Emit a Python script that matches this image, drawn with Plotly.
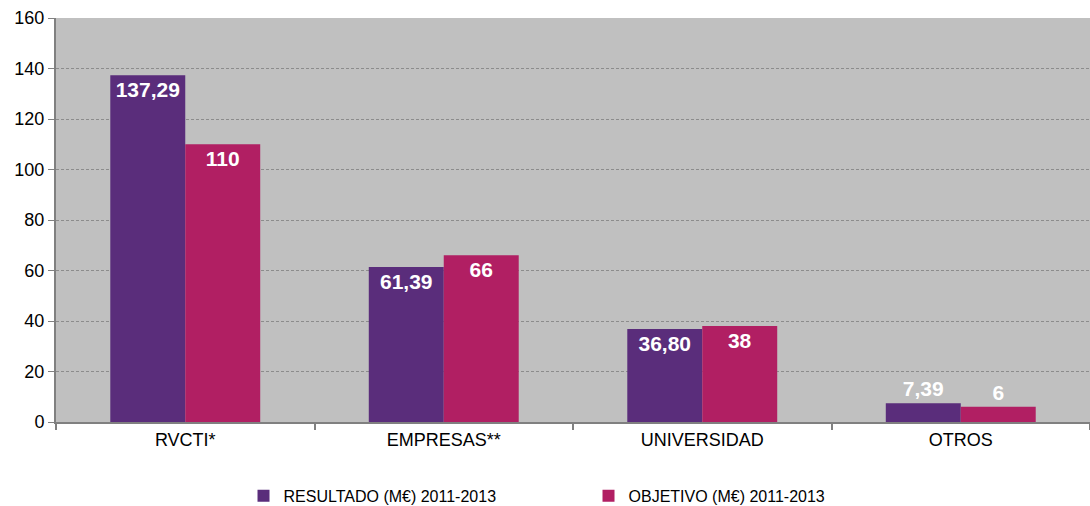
import plotly.graph_objects as go

categories = ["RVCTI*", "EMPRESAS**", "UNIVERSIDAD", "OTROS"]
resultado = [137.29, 61.39, 36.80, 7.39]
objetivo = [110, 66, 38, 6]
resultado_labels = ["137,29", "61,39", "36,80", "7,39"]
objetivo_labels = ["110", "66", "38", "6"]
y_ticks = [0, 20, 40, 60, 80, 100, 120, 140, 160]

purple = "#5A2D7B"
magenta = "#B11F63"
label_font = dict(color="white", size=21, family="Liberation Sans, Arial", weight="bold")

fig = go.Figure()
fig.add_trace(go.Bar(
    x=categories, y=resultado, name="RESULTADO (M€) 2011-2013",
    marker=dict(color=purple, line=dict(width=0)),
    text=resultado_labels,
    textposition=["inside", "inside", "inside", "outside"],
    insidetextanchor="end",
    textfont=label_font, outsidetextfont=label_font,
    cliponaxis=False,
))
fig.add_trace(go.Bar(
    x=categories, y=objetivo, name="OBJETIVO (M€) 2011-2013",
    marker=dict(color=magenta, line=dict(width=0)),
    text=objetivo_labels,
    textposition=["inside", "inside", "inside", "outside"],
    insidetextanchor="end",
    textfont=label_font, outsidetextfont=label_font,
    cliponaxis=False,
))

fig.update_layout(
    width=1090, height=506,
    margin=dict(l=56, r=0, t=18, b=84, autoexpand=False),
    paper_bgcolor="white",
    plot_bgcolor="#C0C0C0",
    barmode="group",
    bargap=0.42,
    bargroupgap=0,
    uniformtext=dict(mode=False),
    font=dict(family="Liberation Sans, Arial", size=18, color="black"),
    showlegend=True,
    legend=dict(orientation="h", x=0.515, xanchor="center", y=-0.183, yanchor="middle",
                font=dict(size=16, family="Liberation Sans, Arial"),
                itemwidth=30, traceorder="normal",
                entrywidth=300, entrywidthmode="pixels"),
)
fig.update_xaxes(
    showline=True, linecolor="#808080", linewidth=2,
    ticks="outside", tickson="boundaries", ticklen=6, tickcolor="#808080", tickwidth=2,
    showgrid=False, tickfont=dict(size=18),
)
fig.update_yaxes(
    range=[0, 160], tickvals=y_ticks, showline=True, linecolor="#808080", linewidth=2,
    ticks="outside", ticklen=6, tickcolor="#808080",
    showgrid=True, gridcolor="#8C8C8C", griddash="3px,2px", gridwidth=1,
    zeroline=False, tickfont=dict(size=18),
)

fig.write_html("out.html", config={"displayModeBar": False},
               post_script="document.body.style.margin='0';")
